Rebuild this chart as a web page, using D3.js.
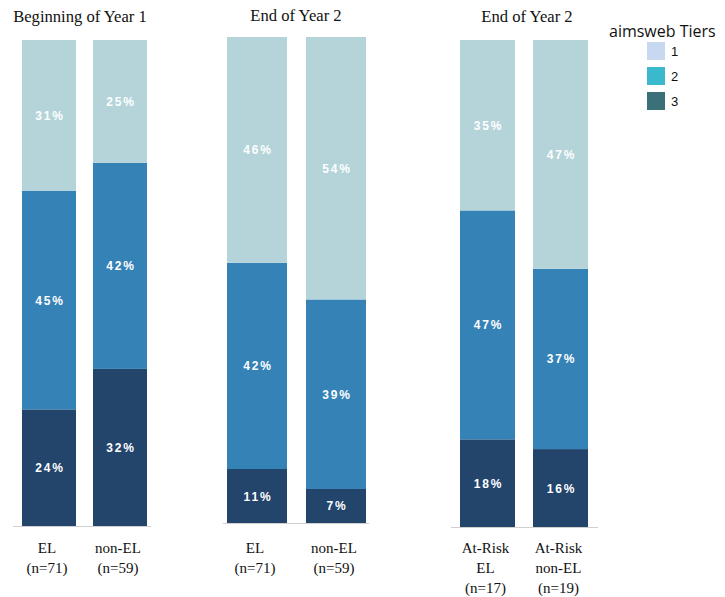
<!DOCTYPE html>
<html><head><meta charset="utf-8">
<script src="https://cdn.jsdelivr.net/npm/d3@7"></script>
<style>body{margin:0;background:#fff}svg{display:block}</style>
</head><body><svg id="c" width="725" height="597"></svg>
<script>
const panelTitles = ["Beginning of Year 1", "End of Year 2", "End of Year 2"];
const categories = [
  ["EL", "(n=71)"], ["non-EL", "(n=59)"],
  ["EL", "(n=71)"], ["non-EL", "(n=59)"],
  ["At-Risk", "EL", "(n=17)"], ["At-Risk", "non-EL", "(n=19)"]
];
const panelOf = [0, 0, 1, 1, 2, 2];
const tier1 = [31, 25, 46, 54, 35, 47];
const tier2 = [45, 42, 42, 39, 47, 37];
const tier3 = [24, 32, 11, 7, 18, 16];
const legendTitle = "aimsweb Tiers";
const legendLabels = ["1", "2", "3"];
const legendColors = ["#c8d8f0", "#3bb9cc", "#3a7179"];
const barColors = {t3: "#23456c", t2: "#3582b7", t1: "#b4d4da"};

const svg = d3.select("#c");
const layout = [
  {x0: 22, x1: 147, top: 40, bottom: 526, b0: 13, b1: 151, tx: 80, ty: 22, pad: 17/71},
  {x0: 227, x1: 366, top: 37, bottom: 523, b0: 223, b1: 369, tx: 296, ty: 21, pad: 19/79},
  {x0: 460, x1: 588, top: 40, bottom: 527, b0: 451, b1: 598, tx: 527, ty: 22, pad: 18/73}
];
const rows = categories.map((c, i) => ({i, panel: panelOf[i], t1: tier1[i], t2: tier2[i], t3: tier3[i]}));
const stack = d3.stack().keys(["t3", "t2", "t1"]).offset(d3.stackOffsetExpand);

layout.forEach((L, p) => {
  const data = rows.filter(r => r.panel === p);
  const x = d3.scaleBand().domain(data.map(d => d.i)).range([L.x0, L.x1]).paddingInner(L.pad).paddingOuter(0);
  const y = d3.scaleLinear().domain([0, 1]).range([L.bottom, L.top]);
  const g = svg.append("g");
  g.append("line").attr("x1", L.b0).attr("x2", L.b1).attr("y1", L.bottom + 0.5).attr("y2", L.bottom + 0.5)
    .attr("stroke", "#d0d0d0").attr("stroke-width", 1);
  const series = stack(data);
  series.forEach(s => {
    g.selectAll(null).data(s).enter().append("rect")
      .attr("x", d => x(d.data.i)).attr("width", x.bandwidth())
      .attr("y", d => y(d[1])).attr("height", d => y(d[0]) - y(d[1]))
      .attr("fill", barColors[s.key]);
    g.selectAll(null).data(s).enter().append("text")
      .attr("x", d => x(d.data.i) + x.bandwidth() / 2 + 1)
      .attr("y", d => (y(d[0]) + y(d[1])) / 2 + 4.5)
      .attr("text-anchor", "middle")
      .attr("fill", "#fff").attr("font-family", "Liberation Sans, Arial, sans-serif")
      .attr("font-weight", "bold").attr("font-size", "12px").attr("letter-spacing", "1.8px")
      .text(d => d.data[s.key] + "%");
  });
  g.append("text").attr("x", L.tx).attr("y", L.ty).attr("text-anchor", "middle")
    .attr("font-family", "Liberation Serif, Times New Roman, serif").attr("font-size", "16.6px").attr("fill", "#111")
    .text(panelTitles[p]);
  data.forEach(d => {
    const t = g.append("text").attr("text-anchor", "middle")
      .attr("font-family", "Liberation Serif, Times New Roman, serif").attr("font-size", "15px").attr("fill", "#111");
    categories[d.i].forEach((line, k) => {
      t.append("tspan").attr("x", x(d.i) + x.bandwidth() / 2 - 2).attr("y", 553 + k * 20).text(line);
    });
  });
});

const lg = svg.append("g");
lg.append("text").attr("x", 609).attr("y", 37).attr("font-family", "Open Sans, sans-serif").attr("font-size", "16px")
  .attr("fill", "#111").text(legendTitle);
legendLabels.forEach((l, k) => {
  lg.append("rect").attr("x", 647).attr("y", 42 + k * 25).attr("width", 18).attr("height", 18).attr("fill", legendColors[k]);
  lg.append("text").attr("x", 671).attr("y", 56 + k * 25).attr("font-family", "Liberation Sans, Arial, sans-serif")
    .attr("font-size", "13px").attr("fill", "#111").text(l);
});
</script></body></html>
